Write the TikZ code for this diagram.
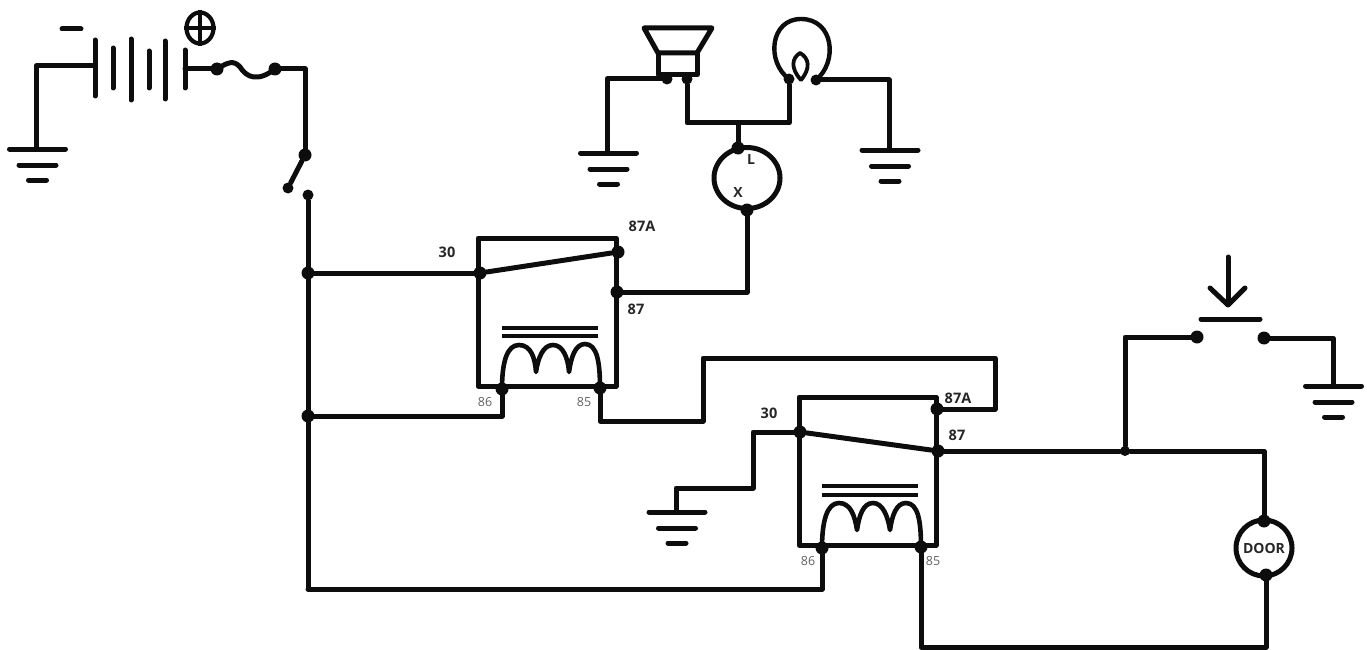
\documentclass[tikz,border=0pt]{standalone}
\usepackage{fontspec}
\usetikzlibrary{shapes.geometric}
\setmainfont{Open Sans}
\begin{document}
\begin{tikzpicture}[x=1pt,y=-1pt,
  wire/.style={draw=black!95,line width=5pt,line join=round,line cap=round},
  thin wire/.style={draw=black!95,line width=4pt,line join=round,line cap=round},
  dot/.style={circle,fill=black!95,inner sep=0pt,minimum size=#1},
  dot/.default=13pt,
  lab/.style={font=\fontsize{14.5}{16}\selectfont\bfseries,text=black!85,inner sep=0pt},
  pin/.style={font=\fontsize{12.5}{15}\selectfont,text=black!62,inner sep=0pt}]
\useasboundingbox (0,0) rectangle (1367,650);
% battery
\coordinate (bn) at (95,66);
\coordinate (bp) at (185,69);
\draw[wire] (95,40)--(95,96) (113,48)--(113,88) (131,39)--(131,100) (149,51)--(149,88) (165,41)--(165,99) (185,50)--(185,88);
\draw[wire] (62,29)--(81,29);
\node[ellipse,draw=black!95,line width=4.2pt,minimum width=27pt,minimum height=31pt,inner sep=0pt] (plus) at (200,28) {};
\draw[thin wire,line cap=butt] (plus.north)--(plus.south) (plus.west)--(plus.east);
% grounds
\newcommand{\gnd}[2]{\draw[wire] (#1-28,#2)--(#1+28,#2) (#1-18.5,#2+16)--(#1+18.5,#2+16) (#1-9,#2+31)--(#1+9,#2+31);}
\coordinate (g1) at (36,149); \gnd{37.5}{149}
\coordinate (g2) at (607,153); \gnd{608.5}{153}
\coordinate (g3) at (889,150); \gnd{890}{150}
\coordinate (g4) at (676,512); \gnd{677}{512}
\coordinate (g5) at (1333,386); \gnd{1333.5}{386}
\draw[wire] (g1)|-(bn);
% fuse
\node[dot] (f1) at (217,69) {};
\node[dot] (f2) at (275,69) {};
\draw[wire] (bp)--(f1);
\draw[wire] (f1.center) .. controls (228,62) and (234,60) .. (240,67) .. controls (247,78) and (258,82) .. (275,69);
% main switch
\node[dot] (s1) at (305,155) {};
\node[dot=11pt] (s2) at (288,188) {};
\node[dot=11pt] (s3) at (308,195) {};
\draw[wire] (f2)-|(s1);
\draw[wire] (s1)--(s2);
% junctions on feed
\node[dot] (j1) at (308,273) {};
\node[dot] (j2) at (308,416) {};
\coordinate (feedend) at (308,589);
\draw[wire] (s3)--(j1)--(j2)--(feedend);
% relay 1
\draw[wire] (478,238) rectangle (616,386);
\node[dot] (r1c) at (480,273) {};
\node[dot] (r1a) at (618,252) {};
\node[dot] (r1b) at (617,292) {};
\node[dot] (r1p) at (502,389) {};
\node[dot] (r1q) at (600,388) {};
\draw[wire] (j1)--(r1c);
\draw[wire] (r1c)--(r1a);
\draw[wire,line width=4pt,line cap=butt] (502,328)--(598,328) (502,336)--(598,336);
\draw[wire,line width=4.6pt] (r1p.center)  .. controls (502,362) and (507,345) .. (519,345) .. controls (531,345) and (535,358) .. (536,372)
  .. controls (538,358) and (543,345) .. (553,345) .. controls (563,345) and (568,358) .. (569,372)
  .. controls (571,358) and (575,344) .. (585,344) .. controls (597,344) and (600,362) .. (r1q.center);
\node[lab] at (447,252) {30};
\node[lab] at (642,226) {87A};
\node[lab] at (636,309) {87};
\node[pin] at (485,402) {86};
\node[pin] at (584,402) {85};
% relay 2
\draw[wire] (799,397) rectangle (936,545);
\node[dot] (r2c) at (800,432) {};
\node[dot] (r2a) at (937,409) {};
\node[dot] (r2b) at (938,451) {};
\node[dot] (r2p) at (822,548) {};
\node[dot] (r2q) at (921,547) {};
\draw[wire] (r2c)--(r2b);
\draw[wire,line width=4pt,line cap=butt] (822,486)--(918,486) (822,495)--(918,495);
\draw[wire,line width=4.6pt] (r2p.center)  .. controls (822,521) and (827,503) .. (839,503) .. controls (851,503) and (855,517) .. (857,530)
  .. controls (859,516) and (863,503) .. (873,503) .. controls (883,503) and (888,517) .. (890,530)
  .. controls (892,516) and (896,503) .. (906,503) .. controls (918,503) and (921,521) .. (r2q.center);
\node[lab] at (769,413) {30};
\node[lab] at (958,398) {87A};
\node[lab] at (957,435) {87};
\node[pin] at (808,561) {86};
\node[pin] at (933,561) {85};
% relay wiring
\draw[wire] (j2) -- (502,416) -- (r1p);
\draw[wire] (r1q) -- (600,421) -- (703,421) -- (703,358) -- (995,358) -- (995,409) -- (r2a);
\draw[wire] (r2c) -- (753,432) -- (753,488) -- (676,488) -- (g4);
\draw[wire] (feedend) -- (822,589) -- (r2p);
% flasher
\node[ellipse,draw=black!95,line width=5pt,minimum width=66pt,minimum height=61pt,inner sep=0pt] (fl) at (747,178) {};
\node[dot] (fll) at (738,148) {};
\node[dot] (flx) at (747,210) {};
\node[lab,font=\fontsize{14}{15}\selectfont\bfseries] at (751,160) {L};
\node[lab,font=\fontsize{14}{15}\selectfont\bfseries] at (738,193) {X};
\draw[wire] (r1b)-|(flx);
% speaker
\draw[wire] (644,28)--(712,28)--(697,53)--(658,53)--cycle;
\draw[wire] (658,53)--(658,75)--(697,75)--(697,53);
\node[dot=11pt] (sp1) at (667,79) {};
\node[dot=11pt] (sp2) at (687,79) {};
% lamp
\node[dot=11pt] (lp1) at (789,79) {};
\node[dot=11pt] (lp2) at (816,80) {};
\draw[wire,line width=4.4pt] (lp1.center) .. controls (766,62) and (770,19) .. (801,19) .. controls (834,19) and (838,62) .. (lp2.center);
\draw[wire,line width=3.8pt] (801,80) .. controls (790,68) and (792,58) .. (800,53) .. controls (809,58) and (811,68) .. (801,80);
% horn/lamp wiring
\coordinate (hj) at (738,123);
\draw[wire] (sp1)-|(g2);
\draw[wire] (sp2)|-(hj);
\draw[wire] (hj)-|(lp1);
\draw[wire] (hj)--(fll);
\draw[wire] (lp2)-|(g3);
% door motor
\node[circle,draw=black!95,line width=5pt,minimum size=56pt,inner sep=0pt,font=\fontsize{14}{15}\selectfont\bfseries,text=black!85] (door) at (1264,548) {DOOR};
\node[dot] (d1) at (1264,521) {};
\node[dot] (d2) at (1266,575) {};
\coordinate (bot) at (921,647);
\draw[wire] (r2q)--(bot)-|(d2);
% push switch
\node[dot=10pt] (tap) at (1125,451) {};
\draw[wire] (r2b)--(tap)-|(d1);
\node[dot] (p1) at (1197,337) {};
\node[dot] (p2) at (1264,338) {};
\draw[wire] (tap)|-(p1);
\draw[wire] (p2)-|(g5);
\draw[wire] (1201,319)--(1260,319);
\draw[wire] (1228,257)--(1228,304);
\draw[wire] (1210,288)--(1228,305)--(1245,288);
\end{tikzpicture}
\end{document}
